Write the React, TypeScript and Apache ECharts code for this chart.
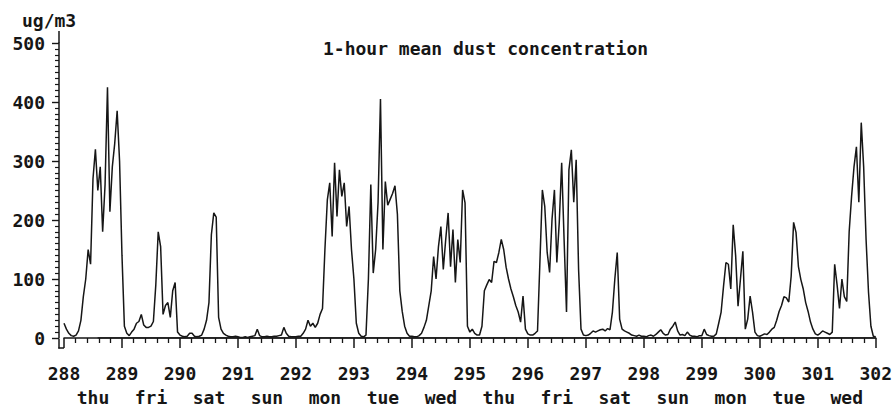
import React, { useEffect, useRef } from "react";
import * as echarts from "echarts";

// hourly 1-hour mean dust concentration (ug/m3), day-of-year 288 .. 301, hours 0..23
const day288 = [25, 15, 8, 4, 3, 5, 12, 30, 70, 100, 150, 125, 270, 320, 250, 290, 180, 260, 425, 214, 290, 330, 385, 300];
const day289 = [140, 20, 8, 4, 10, 15, 25, 28, 40, 22, 18, 18, 20, 28, 90, 180, 155, 40, 55, 60, 35, 80, 94, 10];
const day290 = [5, 3, 2, 3, 8, 8, 3, 2, 3, 5, 15, 30, 60, 175, 212, 205, 35, 15, 8, 5, 3, 2, 2, 3];
const day291 = [2, 1, 1, 2, 1, 2, 3, 4, 15, 4, 2, 2, 3, 2, 2, 3, 3, 4, 5, 18, 8, 3, 2, 2];
const day292 = [2, 3, 3, 8, 15, 30, 20, 25, 18, 25, 40, 50, 150, 234, 263, 172, 297, 206, 285, 240, 263, 189, 223, 150];
const day293 = [100, 25, 8, 3, 2, 5, 100, 260, 110, 150, 230, 405, 150, 265, 225, 235, 245, 258, 210, 80, 45, 20, 8, 3];
const day294 = [3, 2, 2, 4, 8, 18, 30, 55, 80, 138, 100, 155, 189, 116, 167, 212, 121, 184, 94, 167, 128, 251, 229, 20];
const day295 = [10, 15, 8, 5, 5, 20, 80, 90, 99, 94, 130, 128, 145, 167, 150, 120, 100, 83, 70, 55, 44, 27, 71, 15];
const day296 = [7, 5, 5, 8, 12, 130, 251, 223, 145, 111, 201, 251, 128, 196, 297, 167, 44, 285, 319, 230, 302, 116, 15, 5];
const day297 = [4, 5, 8, 12, 10, 12, 14, 15, 12, 16, 14, 44, 100, 145, 32, 15, 12, 10, 8, 5, 4, 3, 5, 3];
const day298 = [3, 2, 4, 5, 3, 6, 10, 14, 8, 5, 6, 15, 20, 27, 12, 5, 6, 4, 10, 5, 3, 3, 2, 4];
const day299 = [4, 15, 6, 4, 3, 3, 7, 25, 44, 88, 128, 125, 83, 192, 140, 54, 100, 147, 15, 32, 71, 44, 10, 4];
const day300 = [3, 5, 7, 6, 10, 15, 18, 30, 45, 55, 70, 68, 61, 105, 196, 179, 121, 99, 83, 60, 45, 27, 15, 7];
const day301 = [5, 8, 12, 10, 8, 6, 10, 125, 90, 50, 100, 70, 62, 180, 240, 290, 324, 230, 365, 290, 167, 78, 20, 3];
const day302 = [2];

const firstDay = 288;
const lastDay = 302;
const dayNames = ["thu", "fri", "sat", "sun", "mon", "tue", "wed", "thu", "fri", "sat", "sun", "mon", "tue", "wed"];
const yTicks = [0, 100, 200, 300, 400, 500];
const unitLabel = "ug/m3";

// flat zero reference line
const baselineX = [288.58, 302];
const baselineY = [0, 0];

const allDays = [day288, day289, day290, day291, day292, day293, day294, day295, day296, day297, day298, day299, day300, day301, day302];

export default function App() {
  const ref = useRef<HTMLDivElement>(null);
  useEffect(() => {
    if (!ref.current) return;
    const chart = echarts.init(ref.current, null, { renderer: "svg" });
    const points: number[][] = [];
    allDays.forEach((arr, d) => {
      arr.forEach((v, h) => points.push([firstDay + d + h / 24, v]));
    });
    const baseline = baselineX.map((x, i) => [x, baselineY[i]]);
    const font = "'DejaVu Sans Mono', monospace";
    const ink = "#161616";
    const labelStyle = { fontFamily: font, fontSize: 18, fontWeight: "bold" as const, color: ink };
    chart.setOption({
      animation: false,
      backgroundColor: "#ffffff",
      title: {
        text: "1-hour mean dust concentration",
        left: 318,
        top: 34,
        textStyle: { fontFamily: font, fontSize: 18, fontWeight: "bold", color: ink },
      },
      grid: { left: 64, right: 16, top: 43, bottom: 67 },
      xAxis: [
        {
          type: "value",
          min: firstDay,
          max: lastDay,
          interval: 1,
          offset: 9,
          axisLine: { show: true, lineStyle: { color: ink, width: 1.5 } },
          axisTick: { show: true, inside: false, length: 10, lineStyle: { color: ink, width: 1.5 } },
          minorTick: { show: true, splitNumber: 5, length: 5, lineStyle: { color: ink, width: 1.3 } },
          splitLine: { show: false },
          axisLabel: { ...labelStyle, margin: 17 },
        },
        {
          type: "value",
          min: firstDay,
          max: lastDay,
          interval: 1,
          offset: 9,
          position: "bottom",
          axisLine: { show: false },
          axisTick: { show: false },
          splitLine: { show: false },
          axisLabel: {
            ...labelStyle,
            margin: 41,
            customValues: dayNames.map((_, i) => firstDay + i + 0.5),
            formatter: (v: number) => dayNames[Math.floor(v) - firstDay] || "",
          },
        },
      ],
      yAxis: {
        type: "value",
        min: yTicks[0],
        max: yTicks[yTicks.length - 1],
        interval: 100,
        offset: 5,
        axisLine: { show: true, lineStyle: { color: ink, width: 1.5 } },
        axisTick: { show: true, inside: false, length: 7, lineStyle: { color: ink, width: 1.4 } },
        minorTick: { show: true, splitNumber: 10, length: 4, lineStyle: { color: ink, width: 1.2 } },
        splitLine: { show: false },
        axisLabel: { ...labelStyle, margin: 14 },
      },
      series: [
        {
          type: "line",
          name: "baseline",
          data: baseline,
          showSymbol: false,
          symbol: "none",
          lineStyle: { color: ink, width: 1.6 },
          silent: true,
        },
        {
          type: "line",
          name: "dust",
          data: points,
          showSymbol: false,
          symbol: "none",
          lineStyle: { color: ink, width: 1.5 },
        },
      ],
      graphic: [
        {
          type: "text",
          left: 22,
          top: 11,
          style: { text: unitLabel, font: `bold 18px ${font}`, fill: ink },
        },
        { type: "line", shape: { x1: 59, y1: 31, x2: 59, y2: 43 }, style: { stroke: ink, lineWidth: 1.5 } },
        { type: "line", shape: { x1: 59, y1: 339, x2: 59, y2: 348.5 }, style: { stroke: ink, lineWidth: 1.5 } },
        { type: "line", shape: { x1: 58.3, y1: 348, x2: 64, y2: 348 }, style: { stroke: ink, lineWidth: 1.5 } },
      ],
    });
    return () => chart.dispose();
  }, []);
  return (
    <div
      ref={ref}
      style={{ position: "fixed", left: 0, top: 0, width: 895, height: 406, background: "#fff" }}
    />
  );
}
